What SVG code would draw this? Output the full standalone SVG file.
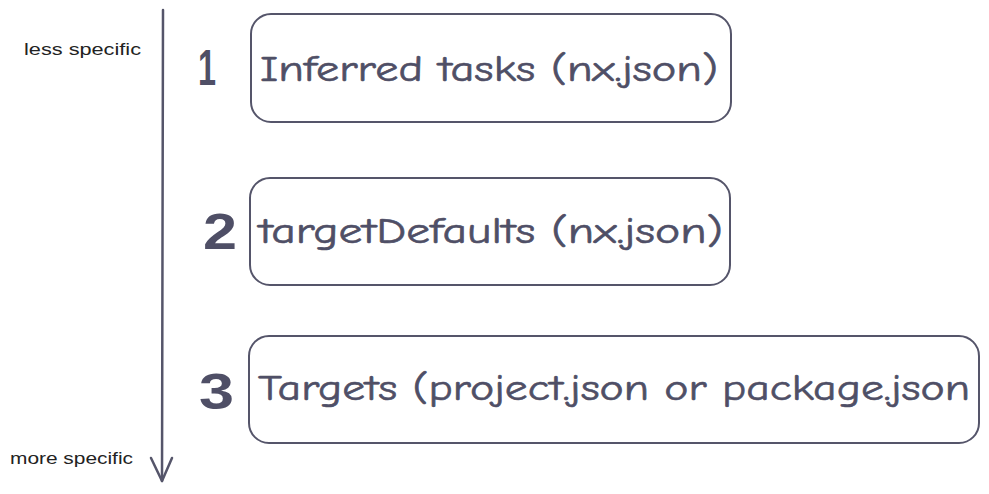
<svg xmlns="http://www.w3.org/2000/svg" width="989" height="494" viewBox="0 0 989 494">
  <style>
    .box { fill: none; stroke: #55556a; stroke-width: 2; }
    .lbl { font-family: "Comic Neue", "Liberation Sans", sans-serif; font-size: 37px; fill: #4f4f66; stroke: #4f4f66; stroke-width: 0.6; }
    .num { font-family: "Liberation Sans", sans-serif; font-size: 50px; font-weight: bold; fill: #4f4f66; }
    .side { font-family: "Liberation Sans", sans-serif; font-size: 16px; fill: #222; }
    .axis { fill: none; stroke: #55556a; stroke-width: 2.5; stroke-linecap: round; stroke-linejoin: round; }
  </style>

  <g id="connectors">
    <path class="axis" d="M163 10 L162 481"/>
    <path class="axis" d="M151 458 L162 481 L172 458"/>
  </g>

  <g id="less-specific">
    <text class="side" x="24" y="55" textLength="117" lengthAdjust="spacingAndGlyphs">less specific</text>
  </g>
  <g id="more-specific">
    <text class="side" x="10" y="464" textLength="123" lengthAdjust="spacingAndGlyphs">more specific</text>
  </g>

  <g id="level-1">
    <text class="num" x="198" y="85" textLength="18" lengthAdjust="spacingAndGlyphs">1</text>
    <rect class="box" x="251" y="14" width="480" height="108" rx="20"/>
    <text class="lbl" x="260" y="81" textLength="458" lengthAdjust="spacingAndGlyphs">Inferred tasks (nx.json)</text>
  </g>

  <g id="level-2">
    <text class="num" x="203" y="249" textLength="34" lengthAdjust="spacingAndGlyphs">2</text>
    <rect class="box" x="250" y="178" width="480" height="107" rx="20"/>
    <text class="lbl" x="259" y="243" textLength="464" lengthAdjust="spacingAndGlyphs">targetDefaults (nx.json)</text>
  </g>

  <g id="level-3">
    <text class="num" x="199" y="409" textLength="35" lengthAdjust="spacingAndGlyphs">3</text>
    <rect class="box" x="249" y="336" width="730" height="107" rx="20"/>
    <text class="lbl" x="258" y="400" textLength="712" lengthAdjust="spacingAndGlyphs">Targets (project.json or package.json</text>
  </g>
</svg>
